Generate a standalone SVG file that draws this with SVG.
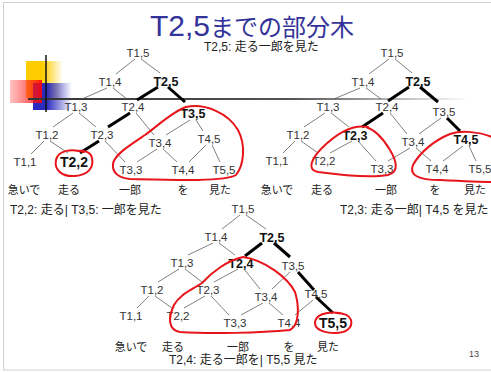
<svg xmlns="http://www.w3.org/2000/svg" width="491" height="372" viewBox="0 0 491 372">
<style>
text{font-family:"Liberation Sans","Noto Sans CJK JP",sans-serif;}
.n{font-size:11.5px;fill:#333;text-anchor:middle;}
.b{font-size:12.5px;font-weight:bold;fill:#111;text-anchor:middle;}
.bb{font-size:14px;font-weight:bold;fill:#111;text-anchor:middle;}
.e{stroke:#555;stroke-width:0.75;fill:none;}
.eb{stroke:#000;stroke-width:3;fill:none;}
.r{stroke:#e8141b;stroke-width:2;fill:none;stroke-linecap:round;stroke-linejoin:round;}
.w{font-size:11px;fill:#222;text-anchor:middle;}
.l{font-size:12px;fill:#222;}
</style>
<defs>
<linearGradient id="gy" x1="0" x2="1" y1="0" y2="0"><stop offset="0.45" stop-color="#ffcc00"/><stop offset="1" stop-color="#ffcc00" stop-opacity="0"/></linearGradient>
<linearGradient id="gb" x1="0" x2="1" y1="0" y2="0"><stop offset="0.35" stop-color="#2b2bc0"/><stop offset="1" stop-color="#2b2bc0" stop-opacity="0"/></linearGradient>
<linearGradient id="gr" x1="0" x2="1" y1="0" y2="0"><stop offset="0" stop-color="#ff5050" stop-opacity="0.35"/><stop offset="1" stop-color="#ff0000" stop-opacity="0.9"/></linearGradient>
<linearGradient id="gl" x1="0" x2="1" y1="0" y2="0"><stop offset="0" stop-color="#333"/><stop offset="0.6" stop-color="#555"/><stop offset="1" stop-color="#fff"/></linearGradient>
</defs>
<rect x="3.5" y="2.5" width="495" height="367.5" fill="#fff" stroke="#cfcfcf" stroke-width="1"/>
<g id="decor">
<rect x="26" y="61" width="37" height="37" fill="url(#gy)"/>
<rect x="33" y="83" width="39" height="27" fill="url(#gb)"/>
<rect x="10" y="80" width="32" height="23" fill="url(#gr)"/>
<rect x="28" y="98" width="442" height="2" fill="url(#gl)"/>
<line x1="46" y1="55" x2="46" y2="112" stroke="#111" stroke-width="1.5"/>
</g>
<g id="title">
<text x="150" y="36" fill="#333399"><tspan font-size="30">T2,5</tspan><tspan font-size="24">までの部分木</tspan></text>
<text class="l" x="204" y="51">T2,5: 走る一郎を見た</text>
</g>
<g id="connectors">
<!-- tree 1 -->
<line class="e" x1="135" y1="59" x2="116" y2="74"/>
<line class="e" x1="141" y1="59" x2="160" y2="73"/>
<line class="e" x1="107" y1="88" x2="82" y2="99"/>
<line class="e" x1="113" y1="88" x2="127" y2="99"/>
<line class="eb" x1="158" y1="87" x2="137" y2="100"/>
<line class="eb" x1="168" y1="87" x2="185" y2="102"/>
<line class="e" x1="73" y1="113" x2="53" y2="127"/>
<line class="e" x1="79" y1="113" x2="96" y2="127"/>
<line class="eb" x1="130" y1="113" x2="108" y2="127"/>
<line class="e" x1="136" y1="113" x2="154" y2="135"/>
<line class="e" x1="190" y1="120" x2="166" y2="135"/>
<line class="e" x1="196" y1="120" x2="203" y2="131"/>
<line class="e" x1="44" y1="141" x2="31" y2="154"/>
<line class="e" x1="50" y1="141" x2="68" y2="153"/>
<line class="eb" x1="99" y1="141" x2="80" y2="153"/>
<line class="e" x1="105" y1="141" x2="125" y2="162"/>
<line class="e" x1="157" y1="149" x2="137" y2="162"/>
<line class="e" x1="163" y1="149" x2="177" y2="162"/>
<line class="e" x1="206" y1="145" x2="189" y2="162"/>
<line class="e" x1="212" y1="145" x2="220" y2="162"/>
<!-- tree 2 -->
<line class="e" x1="389" y1="59" x2="369" y2="74"/>
<line class="e" x1="395" y1="59" x2="412" y2="73"/>
<line class="e" x1="360" y1="88" x2="334" y2="99"/>
<line class="e" x1="366" y1="88" x2="381" y2="99"/>
<line class="eb" x1="409" y1="87" x2="388" y2="101"/>
<line class="eb" x1="420" y1="87" x2="438" y2="102"/>
<line class="e" x1="325" y1="113" x2="304" y2="127"/>
<line class="e" x1="331" y1="113" x2="349" y2="127"/>
<line class="eb" x1="383" y1="113" x2="362" y2="127"/>
<line class="e" x1="390" y1="113" x2="407" y2="134"/>
<line class="e" x1="441" y1="118" x2="419" y2="134"/>
<line class="eb" x1="447" y1="118" x2="460" y2="131"/>
<line class="e" x1="295" y1="141" x2="283" y2="153"/>
<line class="e" x1="301" y1="141" x2="318" y2="153"/>
<line class="e" x1="352" y1="141" x2="330" y2="153"/>
<line class="e" x1="358" y1="141" x2="376" y2="161"/>
<line class="e" x1="410" y1="148" x2="388" y2="161"/>
<line class="e" x1="416" y1="148" x2="431" y2="161"/>
<line class="e" x1="463" y1="146" x2="443" y2="161"/>
<line class="e" x1="469" y1="146" x2="476" y2="161"/>
<!-- tree 3 -->
<line class="e" x1="240" y1="215" x2="222" y2="229"/>
<line class="e" x1="246" y1="215" x2="266" y2="229"/>
<line class="e" x1="213" y1="243" x2="188" y2="255"/>
<line class="e" x1="219" y1="243" x2="235" y2="255"/>
<line class="eb" x1="262" y1="243" x2="245" y2="256"/>
<line class="eb" x1="274" y1="243" x2="290" y2="257"/>
<line class="e" x1="179" y1="269" x2="158" y2="282"/>
<line class="e" x1="185" y1="269" x2="202" y2="282"/>
<line class="e" x1="238" y1="269" x2="214" y2="282"/>
<line class="e" x1="244" y1="269" x2="260" y2="289"/>
<line class="e" x1="290" y1="272" x2="272" y2="289"/>
<line class="eb" x1="298" y1="272" x2="314" y2="290"/>
<line class="e" x1="149" y1="296" x2="137" y2="308"/>
<line class="e" x1="155" y1="296" x2="172" y2="308"/>
<line class="e" x1="205" y1="296" x2="184" y2="308"/>
<line class="e" x1="211" y1="296" x2="229" y2="315"/>
<line class="e" x1="263" y1="303" x2="241" y2="315"/>
<line class="e" x1="269" y1="303" x2="283" y2="315"/>
<line class="e" x1="313" y1="300" x2="295" y2="315"/>
<line class="eb" x1="316" y1="297" x2="333" y2="313"/>
</g>
<g id="tree1">
<g id="a15"><text class="n" x="138" y="57">T1,5</text></g>
<g id="a14"><text class="n" x="110" y="86">T1,4</text></g>
<g id="a25"><text class="b" x="166" y="85.5">T2,5</text></g>
<g id="a13"><text class="n" x="76" y="111">T1,3</text></g>
<g id="a24"><text class="n" x="133" y="111">T2,4</text></g>
<g id="a35"><text class="b" x="193" y="117.5">T3,5</text></g>
<g id="a12"><text class="n" x="47" y="139">T1,2</text></g>
<g id="a23"><text class="n" x="102" y="139">T2,3</text></g>
<g id="a34"><text class="n" x="160" y="147">T3,4</text></g>
<g id="a45"><text class="n" x="209" y="143">T4,5</text></g>
<g id="a11"><text class="n" x="25" y="166">T1,1</text></g>
<g id="a22"><text class="bb" x="74" y="167">T2,2</text></g>
<g id="a33"><text class="n" x="131" y="174">T3,3</text></g>
<g id="a44"><text class="n" x="183" y="174">T4,4</text></g>
<g id="a55"><text class="n" x="224" y="174">T5,5</text></g>
</g>
<g id="tree2">
<g id="b15"><text class="n" x="392" y="57">T1,5</text></g>
<g id="b14"><text class="n" x="363" y="86">T1,4</text></g>
<g id="b25"><text class="b" x="418" y="85.5">T2,5</text></g>
<g id="b13"><text class="n" x="328" y="111">T1,3</text></g>
<g id="b24"><text class="n" x="387" y="111">T2,4</text></g>
<g id="b35"><text class="n" x="444" y="116">T3,5</text></g>
<g id="b12"><text class="n" x="298" y="139">T1,2</text></g>
<g id="b23"><text class="b" x="355" y="139.5">T2,3</text></g>
<g id="b34"><text class="n" x="413" y="146">T3,4</text></g>
<g id="b45"><text class="b" x="466" y="143.5">T4,5</text></g>
<g id="b11"><text class="n" x="277" y="165">T1,1</text></g>
<g id="b22"><text class="n" x="324" y="165">T2,2</text></g>
<g id="b33"><text class="n" x="382" y="173">T3,3</text></g>
<g id="b44"><text class="n" x="437" y="173">T4,4</text></g>
<g id="b55"><text class="n" x="480" y="173">T5,5</text></g>
</g>
<g id="tree3">
<g id="c15"><text class="n" x="243" y="213">T1,5</text></g>
<g id="c14"><text class="n" x="216" y="241">T1,4</text></g>
<g id="c25"><text class="b" x="272" y="241.5">T2,5</text></g>
<g id="c13"><text class="n" x="182" y="267">T1,3</text></g>
<g id="c24"><text class="b" x="241" y="267.5">T2,4</text></g>
<g id="c35"><text class="n" x="293" y="270">T3,5</text></g>
<g id="c12"><text class="n" x="152" y="294">T1,2</text></g>
<g id="c23"><text class="n" x="208" y="294">T2,3</text></g>
<g id="c34"><text class="n" x="266" y="301">T3,4</text></g>
<g id="c45"><text class="n" x="316" y="298">T4,5</text></g>
<g id="c11"><text class="n" x="131" y="320">T1,1</text></g>
<g id="c22"><text class="n" x="178" y="320">T2,2</text></g>
<g id="c33"><text class="n" x="235" y="327">T3,3</text></g>
<g id="c44"><text class="n" x="289" y="327">T4,4</text></g>
<g id="c55"><text class="bb" x="333" y="328">T5,5</text></g>
</g>
<g id="words">
<text class="w" x="24" y="194">急いで</text>
<text class="w" x="69" y="194">走る</text>
<text class="w" x="130" y="194">一郎</text>
<text class="w" x="183" y="194">を</text>
<text class="w" x="220" y="194">見た</text>
<text class="l" x="10" y="214">T2,2: 走る| T3,5: 一郎を見た</text>
<text class="w" x="277" y="194">急いで</text>
<text class="w" x="322" y="194">走る</text>
<text class="w" x="386" y="194">一郎</text>
<text class="w" x="435" y="194">を</text>
<text class="w" x="475" y="194">見た</text>
<text class="l" x="340" y="214">T2,3: 走る一郎| T4,5 を見た</text>
<text class="w" x="131" y="351">急いで</text>
<text class="w" x="173" y="351">走る</text>
<text class="w" x="238" y="351">一郎</text>
<text class="w" x="289" y="351">を</text>
<text class="w" x="328" y="351">見た</text>
<text class="l" x="169" y="364">T2,4: 走る一郎を| T5,5 見た</text>
<text x="474" y="357" font-size="9" fill="#444" text-anchor="middle">13</text>
</g>
<g id="marks">
<path class="r" d="M84,152 C70,148 58,151 56,160 C54,170 62,177 75,176 C88,175 94,168 92,158 C91,152 84,150 78,151"/>
<path class="r" d="M186,107 C205,103 228,113 238,130 C246,145 244,165 236,175 C225,182 170,180 130,179 C118,178 112,172 113,164 C114,155 130,145 145,135 C160,124 172,112 186,107 Z"/>
<path class="r" d="M368,127 C352,124 335,135 322,148 C312,158 306,170 318,172 C340,175 370,178 388,175 C400,172 396,160 390,150 C384,140 376,130 366,127"/>
<path class="r" d="M492,137 C480,132 462,130 450,134 C435,140 420,152 413,165 C409,175 418,180 440,180 C460,181 480,182 492,182"/>
<path class="r" d="M243,257 C228,260 212,272 202,283 C192,290 180,294 174,305 C168,318 168,330 180,332 C210,334 260,333 290,330 C300,325 299,305 295,292 C288,278 265,260 243,257 Z"/>
<path class="r" d="M340,313 C326,311 315,315 315,323 C315,330 325,333 335,333 C346,333 353,328 351,320 C349,314 342,313 336,313"/>
</g>
</svg>
